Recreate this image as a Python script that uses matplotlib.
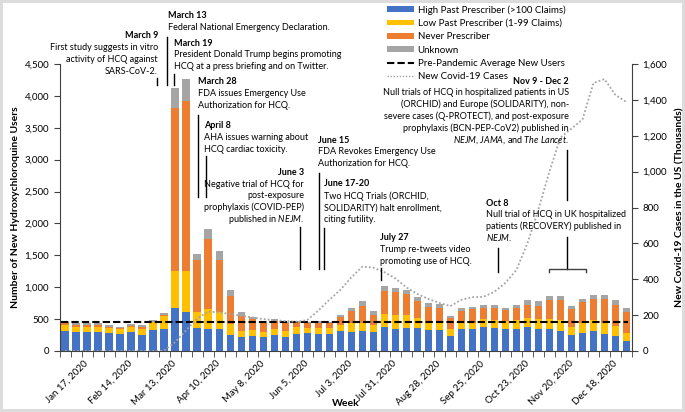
import matplotlib
matplotlib.use("Agg")
import matplotlib.pyplot as plt
from matplotlib.lines import Line2D
from matplotlib.patches import Patch
import numpy as np

plt.rcParams['font.family'] = ['Lato', 'DejaVu Sans']
plt.rcParams['mathtext.fontset'] = 'custom'
plt.rcParams['mathtext.rm'] = 'Lato'
plt.rcParams['mathtext.it'] = 'Lato:italic'

# weekly new HCQ users by prescriber type (weeks from Jan 3, 2020)
high = [318, 300, 292, 302, 276, 271, 292, 255, 328, 350,
        682, 604, 354, 344, 339, 245, 224, 240, 224, 255,
        224, 266, 281, 271, 271, 312, 297, 318, 300, 370,
        339, 354, 354, 328, 328, 234, 344, 349, 370, 354,
        339, 349, 380, 339, 349, 312, 245, 276, 307, 266,
        240, 161]
low = [88, 80, 88, 78, 78, 68, 78, 84, 120, 200,
       568, 646, 261, 307, 265, 185, 94, 88, 78, 94,
       83, 104, 84, 94, 83, 94, 135, 114, 100, 208,
       218, 208, 156, 104, 104, 105, 88, 83, 125, 130,
       135, 135, 130, 156, 146, 172, 135, 156, 177, 166,
       151, 125]
never = [26, 26, 26, 30, 26, 26, 26, 41, 4, 10,
         2560, 2670, 817, 1104, 818, 440, 229, 167, 141, 120,
         125, 78, 67, 67, 78, 120, 198, 281, 165, 365,
         370, 329, 276, 261, 250, 171, 198, 219, 172, 183,
         167, 198, 209, 218, 302, 323, 276, 339, 328, 380,
         338, 329]
unknown = [30, 26, 26, 22, 20, 15, 26, 26, 32, 39,
           320, 340, 94, 156, 146, 80, 68, 41, 31, 31,
           26, 26, 26, 37, 16, 36, 52, 68, 65, 73,
           68, 62, 63, 52, 52, 42, 52, 42, 52, 57,
           41, 37, 88, 68, 62, 63, 47, 52, 63, 63,
           68, 62]
# new covid-19 cases in the US, thousands
covid = [0, 0, 0, 0, 0, 0, 0, 0, 0, 2,
         50, 115, 180, 220, 215, 206, 196, 187, 178, 172,
         167, 163, 172, 225, 285, 340, 410, 470, 465, 440,
         405, 355, 318, 290, 268, 250, 285, 300, 302, 330,
         380, 452, 600, 790, 1000, 1190, 1240, 1290, 1494, 1516,
         1427, 1388]
prepandemic_avg = 450

tick_weeks = [2, 6, 10, 14, 18, 22, 26, 30, 34, 38, 42, 46, 50]
tick_labels = ["Jan 17, 2020", "Feb 14, 2020", "Mar 13, 2020", "Apr 10, 2020",
               "May 8, 2020", "Jun 5, 2020", "Jul 3, 2020", "Jul 31, 2020",
               "Aug 28, 2020", "Sep 25, 2020", "Oct 23, 2020", "Nov 20, 2020",
               "Dec 18, 2020"]

series_names = ["High Past Prescriber (>100 Claims)", "Low Past Prescriber (1-99 Claims)",
                "Never Prescriber", "Unknown"]
colors = ["#4472C4", "#FFC000", "#ED7D31", "#A5A5A5"]

W, H = 685, 412
fig = plt.figure(figsize=(6.85, 4.12), dpi=100)
fig.patch.set_edgecolor("#dcdcdc")
fig.patch.set_linewidth(3)
ax = fig.add_axes([59.5 / W, 61 / H, 572.5 / W, 287 / H])

x = np.arange(len(high))
bottom = np.zeros(len(high))
for vals, c in zip([high, low, never, unknown], colors):
    ax.bar(x, vals, 0.66, bottom=bottom, color=c, zorder=2)
    bottom += np.array(vals)

ax.hlines(prepandemic_avg, x[0] - 0.33, x[-1] + 0.1, colors="black",
          linestyles=(0, (3.5, 1.5)), linewidth=1.5, zorder=3)

ax.set_xlim(-0.5, 51.5)
ax.set_ylim(0, 4500)
ax.set_yticks(np.arange(0, 4501, 500))
ax.set_yticklabels([f"{v:,}" for v in range(0, 4501, 500)])
ax.set_xticks(tick_weeks)
ax.set_xticklabels(tick_labels, rotation=45, ha="right", va="center",
                   rotation_mode="anchor", fontsize=7)
ax.set_xticks(np.arange(-0.5, 52, 1), minor=True)
ax.tick_params(axis="x", which="major", length=0, pad=8)
ax.tick_params(axis="x", which="minor", length=4, color="#404040")
ax.tick_params(axis="y", length=4, labelsize=7, color="#404040")
for s in ["top", "right"]:
    ax.spines[s].set_visible(False)
for s in ["left", "bottom"]:
    ax.spines[s].set_color("#404040")

ax.set_xlabel("Week", fontsize=7.5, fontweight="bold", labelpad=-6)
ax.set_ylabel("Number of New Hydroxychloroquine Users", fontsize=7.5, fontweight="bold")
ax.yaxis.set_label_coords(-0.069, 0.5)

ax2 = ax.twinx()
ax2.plot(x, covid, color="#A5A5A5", linestyle=(0, (1, 1.2)), linewidth=1.3)
ax2.set_ylim(0, 1600)
ax2.set_yticks(np.arange(0, 1601, 200))
ax2.set_yticklabels([f"{v:,}" for v in range(0, 1601, 200)])
ax2.tick_params(axis="y", length=4, labelsize=7, color="#404040")
for s in ["top", "left", "bottom"]:
    ax2.spines[s].set_visible(False)
ax2.spines["right"].set_color("#404040")
ax2.set_ylabel("New Covid-19 Cases in the US (Thousands)", fontsize=7.5, fontweight="bold")
ax2.yaxis.set_label_coords(1.076, 0.5)

handles = [Patch(facecolor=c) for c in colors]
handles += [Line2D([], [], color="black", linestyle=(0, (3.5, 1.5)), linewidth=1.5),
            Line2D([], [], color="#A5A5A5", linestyle=(0, (1, 1.2)), linewidth=1)]
labels = series_names + ["Pre-Pandemic Average New Users", "New Covid-19 Cases"]
fig.legend(handles, labels, loc="upper left", bbox_to_anchor=(387 / W, 1 - 5 / H),
           frameon=False, fontsize=7, handlelength=2.8, handleheight=0.55,
           handletextpad=0.35, labelspacing=0.45, borderaxespad=0, borderpad=0)


def px(xp, yp):
    return xp / W, 1 - yp / H


def note(xp, yp, title, lines, ha="left", pitch=11.8, fs=6.5):
    fig.text(*px(xp, yp), title, ha=ha, va="center", fontsize=fs, fontweight="bold")
    for k, line in enumerate(lines):
        fig.text(*px(xp, yp + pitch * (k + 1)), line, ha=ha, va="center", fontsize=fs)


def vline(xp, y0, y1):
    fig.add_artist(Line2D([xp / W, xp / W], [1 - y0 / H, 1 - y1 / H],
                          color="black", linewidth=1))


note(158, 36, "March 9", ["First study suggests in vitro", "activity of HCQ against",
                          "SARS-CoV-2."], ha="right")
note(168, 16, "March 13", ["Federal National Emergency Declaration."])
note(174, 43, "March 19", ["President Donald Trump begins promoting",
                           "HCQ at a press briefing and on Twitter."])
note(198, 82, "March 28", ["FDA issues Emergency Use", "Authorization for HCQ."])
note(204, 126, "April 8", ["AHA issues warning about", "HCQ cardiac toxicity."])
note(304, 173, "June 3", ["Negative trial of HCQ for", "post-exposure",
                          "prophylaxis (COVID-PEP)", r"published in $\mathit{NEJM}$."],
     ha="right", pitch=11.5)
note(318, 140, "June 15", ["FDA Revokes Emergency Use", "Authorization for HCQ."])
note(324, 184, "June 17-20", ["Two HCQ Trials (ORCHID,", "SOLIDARITY) halt enrollment,",
                              "citing futility."])
note(380, 238, "July 27", ["Trump re-tweets video", "promoting use of HCQ."])
note(486, 203, "Oct 8", ["Null trial of HCQ in UK hospitalized",
                         "patients (RECOVERY) published in", r"$\mathit{NEJM}$."],
     pitch=11.5)
note(569, 81, "Nov 9 - Dec 2", ["Null trials of HCQ in hospitalized patients in US",
                                "(ORCHID) and Europe (SOLIDARITY), non-",
                                "severe cases (Q-PROTECT), and post-exposure",
                                "prophylaxis (BCN-PEP-CoV2) published in",
                                r"$\mathit{NEJM}$, $\mathit{JAMA}$, and $\mathit{The\ Lancet}$."],
     ha="right")

vline(157, 78, 85)
vline(167, 37, 85)
vline(174, 74, 85)
vline(198, 115, 197)
vline(206, 156, 197)
vline(300, 227, 269)
vline(319, 173, 269)
vline(324, 228, 269)
vline(381, 268, 280)
vline(498, 248, 272)
vline(567, 150, 200)
vline(567, 237, 269)
# bracket for Nov 9 - Dec 2
fig.add_artist(Line2D([549 / W, 549 / W, 586 / W, 586 / W],
                      [1 - 272 / H, 1 - 269 / H, 1 - 269 / H, 1 - 272 / H],
                      color="#404040", linewidth=1))

fig.savefig("out.png", dpi=100)
